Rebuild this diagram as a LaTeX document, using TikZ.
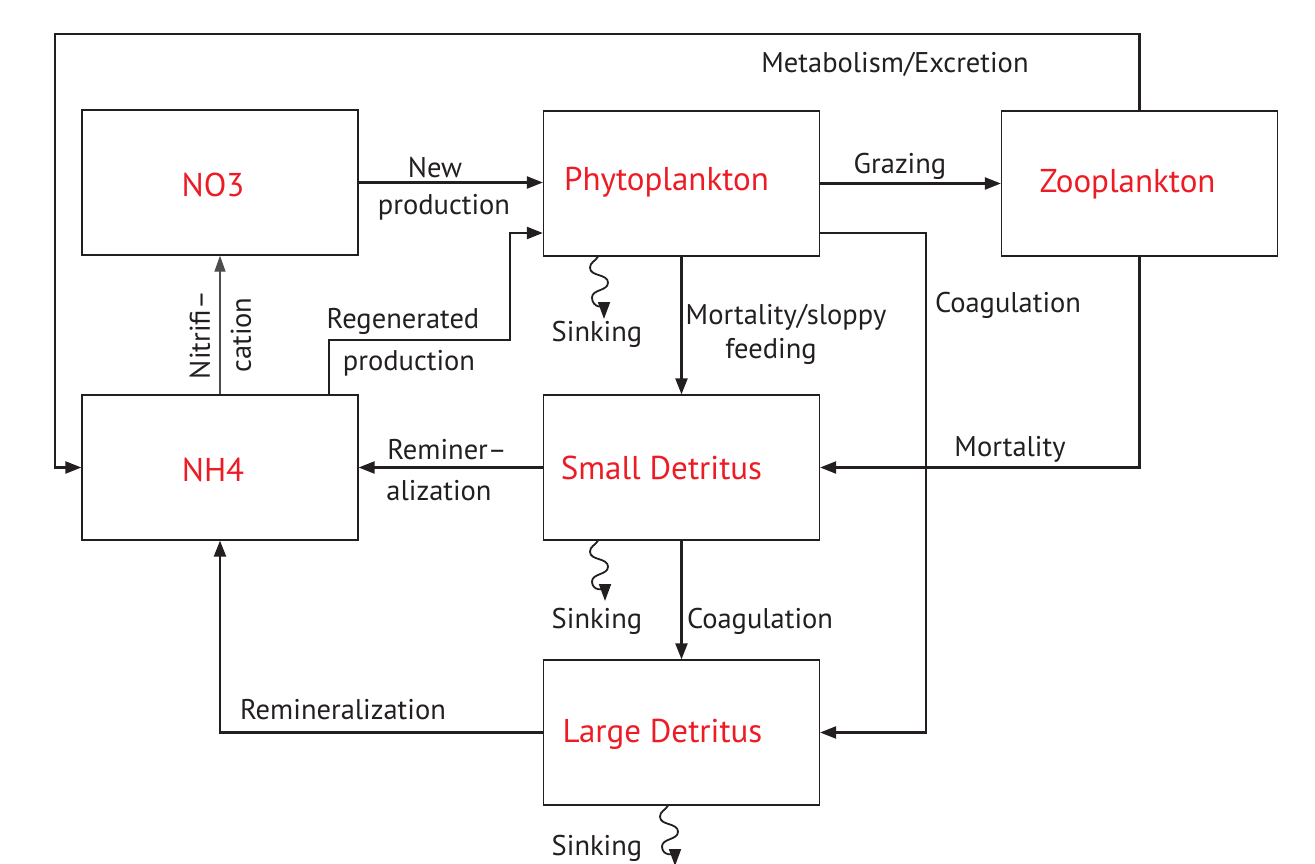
\documentclass[tikz,border=0pt]{standalone}
\usepackage{fontspec}
\setmainfont{PT Sans}
\usetikzlibrary{arrows.meta,calc}
\definecolor{ink}{HTML}{231F20}
\definecolor{boxred}{HTML}{ED1C24}
\tikzset{
  box/.style={draw=ink, line width=1.3pt, minimum width=276pt, minimum height=145pt, inner sep=0pt},
  boxtext/.style={text=boxred, font=\fontsize{33}{38}\selectfont},
  lbl/.style={text=ink, font=\fontsize{28.5}{32}\selectfont, inner sep=0pt},
  arr/.style={draw=ink, line width=2.3pt, -{Triangle[length=16pt,width=12pt]}},
  thinarr/.style={draw=ink!80, line width=1.3pt, -{Triangle[length=16pt,width=11pt]}},
  sink/.style={draw=ink, line width=1.8pt, -{Triangle[length=17pt,width=12pt]}}
}
\begin{document}
\begin{tikzpicture}[x=1pt,y=-1pt]
\useasboundingbox (0,0) rectangle (1315,864);
% boxes
\node[box, label={[boxtext,xshift=-7pt,yshift=-2pt]center:NO3}] (no3) at (220,182.5) {};
\node[box, label={[boxtext,xshift=-15pt,yshift=1pt]center:Phytoplankton}] (phy) at (681.5,183.5) {};
\node[box, label={[boxtext,xshift=-12pt,yshift=-1pt]center:Zooplankton}] (zoo) at (1139.5,183.5) {};
\node[box, label={[boxtext,xshift=-7pt,yshift=-2pt]center:NH4}] (nh4) at (220,467.5) {};
\node[box, label={[boxtext,xshift=-20pt,yshift=0pt]center:Small Detritus}] (sd) at (681.5,467.5) {};
\node[box, label={[boxtext,xshift=-19pt,yshift=-2pt]center:Large Detritus}] (ld) at (681.5,732.5) {};
% bend coordinates
\coordinate (tl) at (55,34);
\coordinate (rg1) at (329,340);
\coordinate (rg2) at (510,233);
\coordinate (cg) at (926,233);
\coordinate (s1a) at (598,0);
\coordinate (s1) at (604,319);
\coordinate (s2a) at (598,0);
\coordinate (s2) at (605,601);
\coordinate (s3a) at (668,0);
\coordinate (s3) at (675,866);
% connectors
\draw[arr] (zoo.north) |- (tl) |- (nh4.west);
\draw[arr] (no3.east) -- (no3.east -| phy.west);
\draw[arr] (phy.east) -- (phy.east -| zoo.west);
\draw[arr] (nh4.north -| rg1) -- (rg1) -| (rg2) -- (phy.west |- rg2);
\draw[thinarr] (nh4.north) -- (no3.south);
\draw[arr] (phy.south) -- (sd.north);
\draw[arr] (phy.east |- cg) -- (cg) |- (ld.east);
\draw[arr] (zoo.south) |- (sd.east);
\draw[arr] (sd.west) -- (nh4.east);
\draw[arr] (sd.south) -- (ld.north);
\draw[arr] (ld.west) -| (nh4.south);
% sinking squiggles
\draw[sink] (phy.south -| s1a) to[out=-120,in=90] ++(-8,11) to[out=-90,in=90] ++(18,15)
  to[out=-90,in=90] ++(-16,15) to[out=-90,in=90] (s1);
\draw[sink] (sd.south -| s2a) to[out=-120,in=90] ++(-8,11) to[out=-90,in=90] ++(18,15)
  to[out=-90,in=90] ++(-16,15) to[out=-90,in=90] (s2);
\draw[sink] (ld.south -| s3a) to[out=-120,in=90] ++(-8,11) to[out=-90,in=90] ++(18,15)
  to[out=-90,in=90] ++(-16,15) to[out=-90,in=90] (s3);
% labels
\node[lbl] (tmet) at (895,64) {Metabolism/Excretion};
\node[lbl] (tnew1) at (435,168) {New};
\node[lbl] (tnew2) at (444,207) {production};
\node[lbl] (tgraz) at (900,166) {Grazing};
\node[lbl] (treg1) at (403,321) {Regenerated};
\node[lbl] (treg2) at (409,363) {production};
\node[lbl, rotate=90] (tnit1) at (200,335) {Nitrifi--};
\node[lbl, rotate=90] (tnit2) at (241,335) {cation};
\node[lbl] (tsink1) at (597,334) {Sinking};
\node[lbl] (tmort1) at (786,317) {Mortality/sloppy};
\node[lbl] (tmort2) at (771,351) {feeding};
\node[lbl] (tcoag1) at (1008,305) {Coagulation};
\node[lbl] (tmort3) at (1010,449) {Mortality};
\node[lbl] (trem1) at (447,450) {Reminer--};
\node[lbl] (trem2) at (439,491) {alization};
\node[lbl] (tsink2) at (597,621) {Sinking};
\node[lbl] (tcoag2) at (760,621) {Coagulation};
\node[lbl] (trem3) at (343,710) {Remineralization};
\node[lbl] (tsink3) at (597,848) {Sinking};
\end{tikzpicture}
\end{document}
